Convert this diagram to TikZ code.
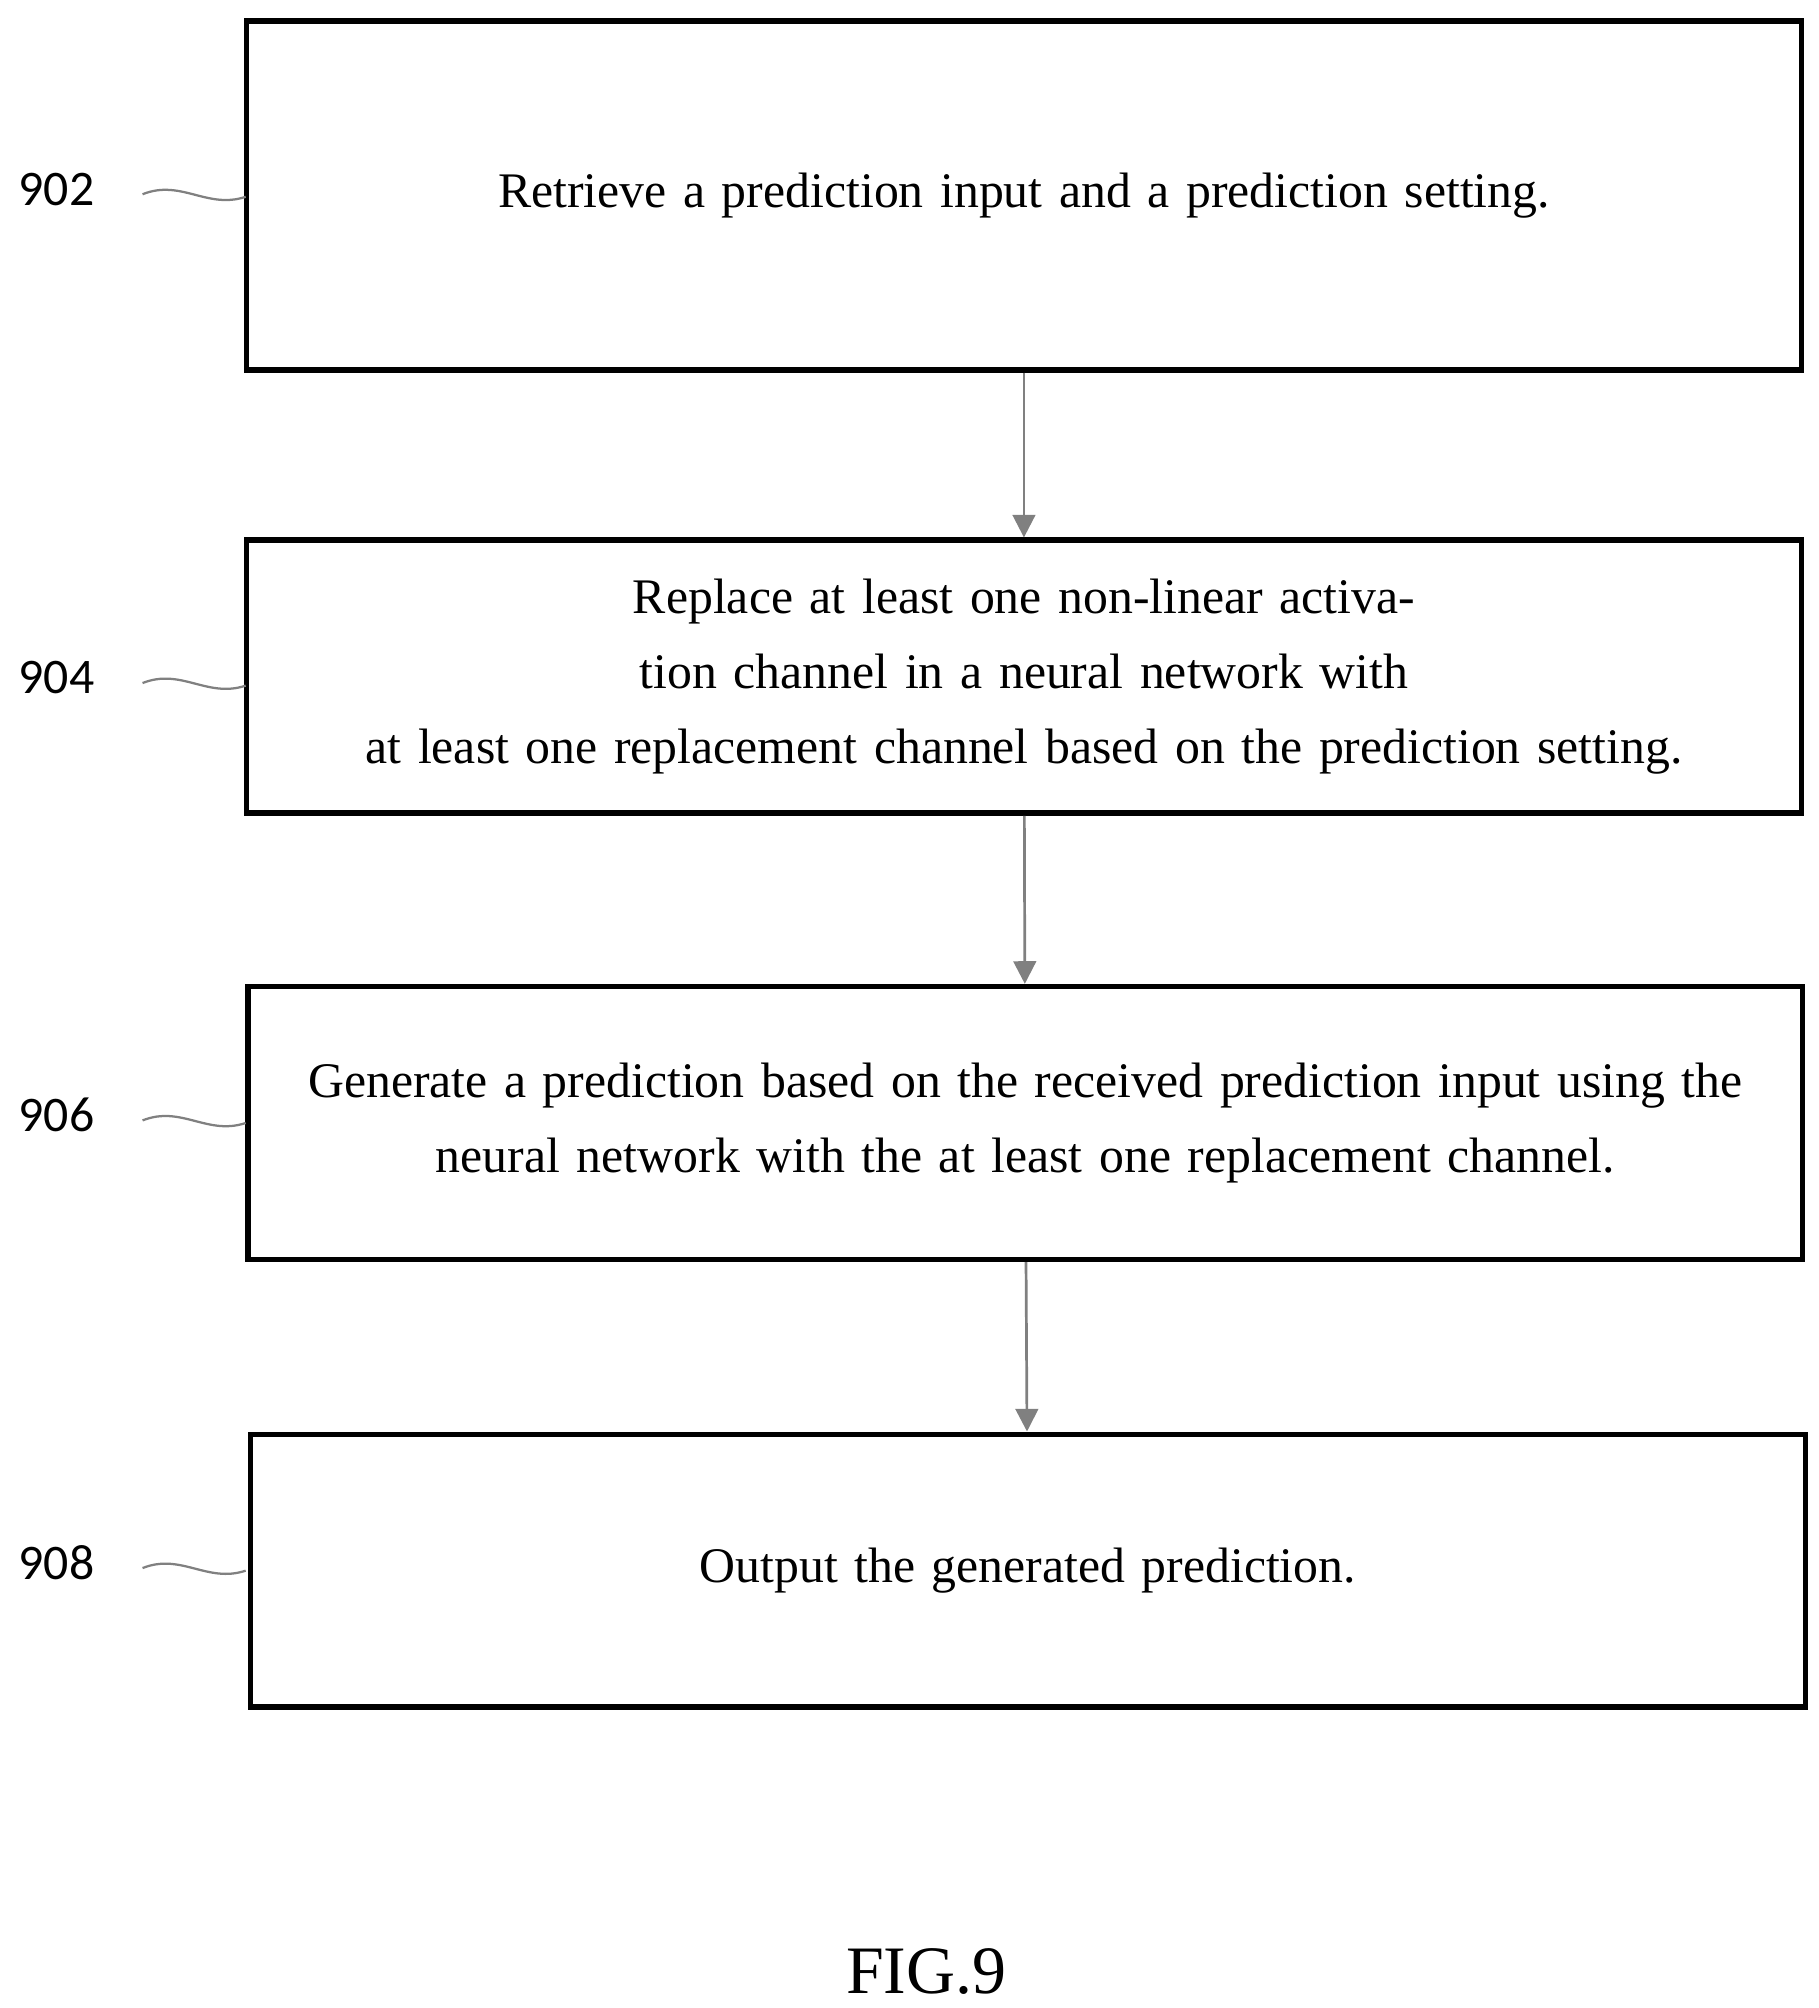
\documentclass[tikz,border=0pt]{standalone}
\usepackage{fontspec}
\setmainfont{Liberation Serif}
\newfontfamily\labelfont{Carlito}
\usetikzlibrary{positioning,arrows.meta}
\tikzset{
  stepbox/.style={draw, line width=1.2pt, minimum width=12.08cm, text width=11.9cm, align=center, inner sep=0pt,
    font=\fontsize{11}{16.5}\selectfont},
  flow/.style={draw=gray, line width=0.6pt, -{Triangle[length=5pt,width=5pt]}},
  tag/.style={font=\labelfont\fontsize{11}{13}\selectfont},
  lead/.style={draw=gray, line width=0.5pt}
}
\begin{document}
\begin{tikzpicture}[x=0.01cm,y=-0.01cm]
\useasboundingbox (0,0) rectangle (1414,1561);
% steps
\node[stepbox, minimum height=2.71cm] (s902) at (796,152) {Retrieve a prediction input and a prediction setting.};
\node[stepbox, minimum height=2.12cm] (s904) at (796,526) {Replace at least one non-linear activation channel in a neural network with\\at least one replacement channel based on the prediction setting.};
\node[stepbox, minimum height=2.12cm] (s906) at (797,873) {Generate a prediction based on the received prediction input using the\\neural network with the at least one replacement channel.};
\node[stepbox, minimum height=2.12cm] (s908) at (799,1221) {Output the generated prediction.};
\draw[flow] (s902) -- (s904);
\draw[flow] (s904) -- (s906);
\draw[flow] (s906) -- (s908);
% reference numerals
\foreach \n/\y in {902/147,904/527,906/867,908/1215} {
  \node[tag] (t\n) at (44,\y) {\n};
  \coordinate (e\n) at (191,\y+6);
  \draw[lead] (t\n.east)++(25,4) .. controls +(30,-12) and +(-30,10) .. (e\n);
}
\node[font=\fontsize{15}{18}\selectfont] (fig) at (720,1533) {FIG.9};
\end{tikzpicture}
\end{document}
